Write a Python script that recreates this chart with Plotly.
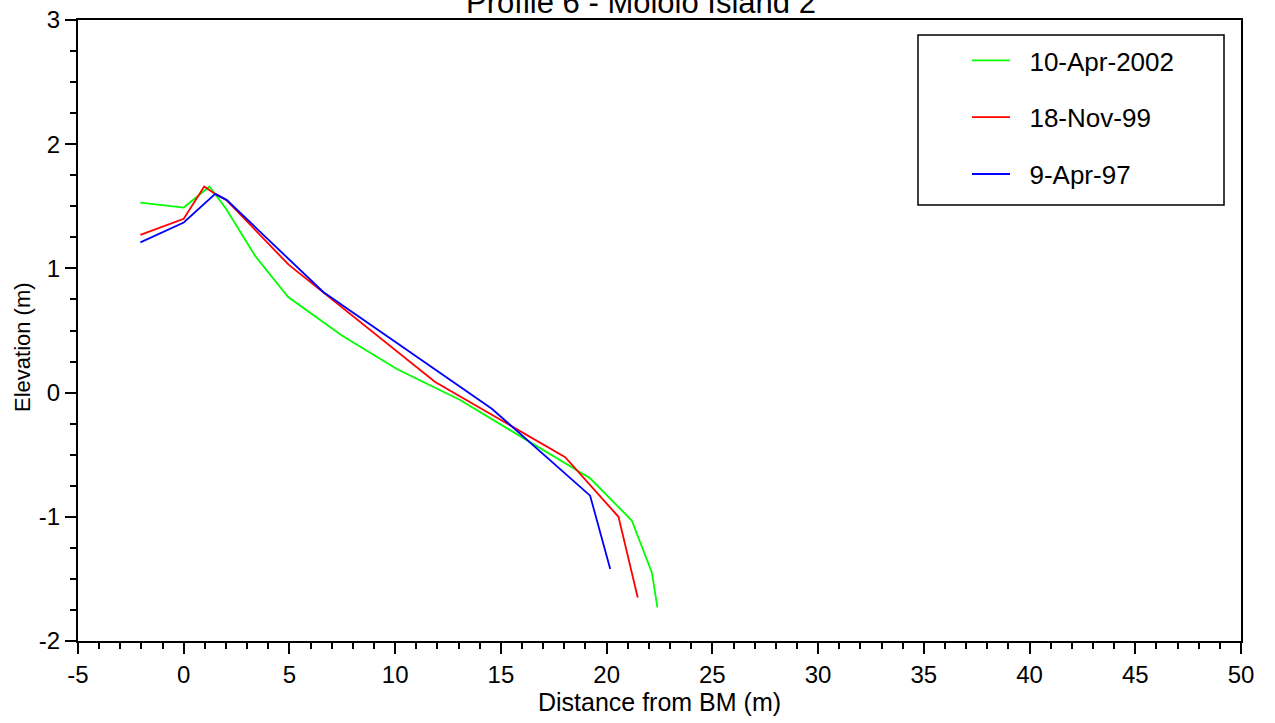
import plotly.graph_objects as go

# Data
green_x = [-2.05, 0.0, 1.22, 2.0, 3.38, 4.94, 7.48, 10.08, 13.07, 19.22, 21.19, 22.14, 22.40]
green_y = [1.53, 1.49, 1.66, 1.48, 1.10, 0.77, 0.46, 0.19, -0.06, -0.69, -1.03, -1.45, -1.73]

red_x = [-2.05, 0.0, 0.97, 1.49, 2.02, 4.96, 11.89, 18.04, 20.56, 21.47]
red_y = [1.27, 1.40, 1.66, 1.60, 1.55, 1.03, 0.085, -0.52, -1.0, -1.65]

blue_x = [-2.05, 0.0, 1.49, 2.04, 6.6, 14.57, 19.22, 20.17]
blue_y = [1.21, 1.37, 1.60, 1.55, 0.81, -0.13, -0.83, -1.42]

series_names = ["10-Apr-2002", "18-Nov-99", "9-Apr-97"]
series_colors = ["#00FF00", "#FF0000", "#0000FF"]

x_tickvals = [-5, 0, 5, 10, 15, 20, 25, 30, 35, 40, 45, 50]
x_ticktext = ["-5", "0", "5", "10", "15", "20", "25", "30", "35", "40", "45", "50"]
y_tickvals = [-2, -1, 0, 1, 2, 3]
y_ticktext = ["-2", "-1", "0", "1", "2", "3"]

FONT = "Liberation Sans, Arial, sans-serif"

fig = go.Figure()
for i, (xs, ys) in enumerate([(green_x, green_y), (red_x, red_y), (blue_x, blue_y)]):
    fig.add_trace(go.Scatter(
        x=xs, y=ys, mode="lines", name="\u00a0\u00a0" + series_names[i],
        legendgroup=f"g{i}",
        line=dict(color=series_colors[i], width=1.8),
    ))

W, H = 1275, 723
L, R, T, B = 78, 34, 20, 82

axis_common = dict(
    showline=True, linecolor="black", linewidth=2, mirror=True,
    showgrid=False, zeroline=False, automargin=False,
    ticks="outside", ticklen=11, tickwidth=1.5, tickcolor="black",
    tickfont=dict(family=FONT, size=24, color="black"),
)

fig.update_xaxes(
    range=[-5, 50], tickvals=x_tickvals, ticktext=x_ticktext,
    minor=dict(ticks="outside", dtick=1, ticklen=6, tickwidth=1.5, tickcolor="black"),
    title=dict(text="Distance from BM (m)", font=dict(family=FONT, size=25, color="black"), standoff=6),
    **axis_common,
)
fig.update_yaxes(
    range=[-2, 3], tickvals=y_tickvals, ticktext=y_ticktext,
    minor=dict(ticks="outside", dtick=0.25, ticklen=6, tickwidth=1.5, tickcolor="black"),
    **axis_common,
)

pw = W - L - R
ph = H - T - B

def px2paper_x(px):
    return (px - L) / pw

def px2paper_y(py):
    return 1 - (py - T) / ph

# y-axis title placed as annotation to match reference position
fig.add_annotation(text="Elevation (m)", textangle=-90, showarrow=False,
                   xref="paper", yref="paper", x=px2paper_x(22), y=px2paper_y(347),
                   xanchor="center", yanchor="middle",
                   font=dict(family=FONT, size=22, color="black"))

# legend frame
fig.add_shape(type="rect", xref="paper", yref="paper",
              x0=px2paper_x(918), x1=px2paper_x(1224),
              y0=px2paper_y(205), y1=px2paper_y(35),
              line=dict(color="black", width=1.5), fillcolor="rgba(0,0,0,0)")

fig.update_layout(
    width=W, height=H,
    margin=dict(l=L, r=R, t=T, b=B, autoexpand=False),
    paper_bgcolor="white", plot_bgcolor="white",
    title=dict(text="Profile 6 - Mololo Island 2", font=dict(family=FONT, size=31, color="black"),
               x=641 / W, xanchor="center", xref="container",
               y=1 - 2 / H, yanchor="middle", yref="container"),
    showlegend=True,
    legend=dict(
        x=px2paper_x(967), xanchor="left",
        y=px2paper_y(37), yanchor="top",
        bgcolor="rgba(0,0,0,0)", borderwidth=0,
        font=dict(family=FONT, size=26, color="black"),
        itemwidth=38, tracegroupgap=20,
    ),
)

fig.write_html("out.html")
